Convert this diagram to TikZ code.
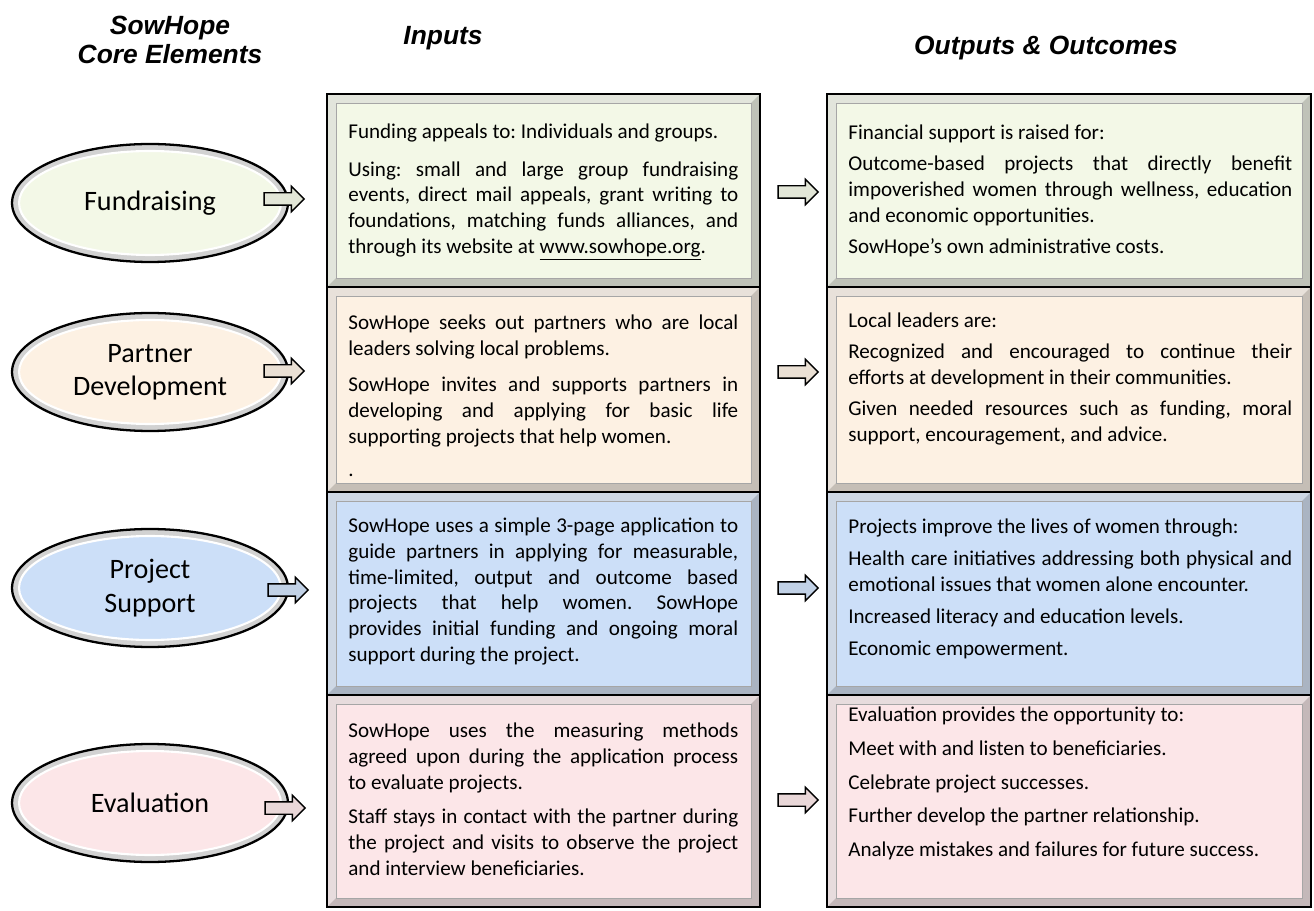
\documentclass[tikz,border=0pt]{standalone}
\usepackage{fontspec}
\newfontfamily\carlito{Carlito}
\newfontfamily\headfont{Liberation Sans}
\usetikzlibrary{shapes.geometric}
\usetikzlibrary{shapes.arrows}
\usetikzlibrary{positioning}

\definecolor{fundfill}{HTML}{F3F8E7}
\definecolor{partfill}{HTML}{FDF1E3}
\definecolor{projfill}{HTML}{CCDFF8}
\definecolor{evalfill}{HTML}{FCE6E8}

\tikzset{
	head/.style={font=\headfont\bfseries\itshape\fontsize{15}{17}\selectfont, align=center},
	core/.style={ellipse, draw=black, line width=1.3pt, fill=gray!35, minimum width=5.52cm, minimum height=2.36cm},
	coreface/.style={ellipse, draw=white, line width=1.2pt, fill=#1, minimum width=5.24cm, minimum height=2.08cm, font=\carlito\fontsize{16}{19}\selectfont, align=center},
	blockarrow/.style={single arrow, draw=black, line width=0.8pt, fill=#1, minimum height=0.8cm, minimum width=0pt, single arrow head extend=0.13cm, inner xsep=0pt, inner ysep=0.11cm},
	boxtext/.style={anchor=north west, inner sep=0pt, align=justify, font=\carlito\fontsize{12}{14.6}\selectfont\frenchspacing, execute at begin node={\setlength{\parskip}{#1}}},
	intext/.style={boxtext=#1, text width=7.8cm},
	outtext/.style={boxtext=#1, text width=8.88cm},
}

\begin{document}
\begin{tikzpicture}[x=0.02cm, y=-0.02cm]
	\useasboundingbox (0,0) rectangle (1314,911);

	% column heads
	\node[head] (corehead) at (170,40) {SowHope\\Core Elements};
	\node[head] (inhead) at (443,38) {Inputs};
	\node[head] (outhead) at (1046,48) {Outputs \& Outcomes};

	% bevelled boxes
	\foreach \ya/\yb/\c in {94/287/fundfill, 287/492/partfill, 492/695/projfill, 695/907/evalfill} {
		\foreach \xa/\xb in {327/760, 827/1311} {
			\fill[\c!75!gray!70!white] (\xa,\ya) rectangle (\xb,\yb);
			\fill[\c!55!gray] (\xb,\ya) -- (\xb,\yb) -- (\xa,\yb) -- (\xa+9,\yb-9) -- (\xb-9,\yb-9) -- (\xb-9,\ya+9) -- cycle;
			\draw[gray!70, fill=\c] (\xa+9,\ya+9) rectangle (\xb-9,\yb-9);
			\draw[line width=1.2pt] (\xa,\ya) rectangle (\xb,\yb);
		}
	}

	% core elements
	\node[core] (fundcore) at (150,203) {};
	\node[coreface=fundfill] (fund) at (fundcore) {Fundraising};
	\node[core] (partcore) at (150,372) {};
	\node[coreface=partfill] (part) at (partcore) {Partner\\Development};
	\node[core] (projcore) at (150,588) {};
	\node[coreface=projfill] (proj) at (projcore) {Project\\Support};
	\node[core] (evalcore) at (150,803) {};
	\node[coreface=evalfill] (eval) at (evalcore) {Evaluation};

	% arrows
	\node[blockarrow=fundfill!85!gray] (fundarrow) at (281,199) {};
	\node[blockarrow=partfill!85!gray] (partarrow) at (281,371) {};
	\node[blockarrow=projfill!85!gray] (projarrow) at (285,590) {};
	\node[blockarrow=evalfill!85!gray] (evalarrow) at (282,808) {};
	\node[blockarrow=fundfill!85!gray] (fundmid) at (795,192) {};
	\node[blockarrow=partfill!85!gray] (partmid) at (795,372) {};
	\node[blockarrow=projfill!85!gray] (projmid) at (795,588) {};
	\node[blockarrow=evalfill!85!gray] (evalmid) at (795,800) {};

	% inputs
	\node[intext=6.5pt] (fundin) at (348,124) {Funding appeals to: Individuals and groups.\par
		Using: small and large group fundraising \linebreak events, direct mail appeals, grant writing to \linebreak foundations, matching funds alliances, and \linebreak through its website at \underline{www.sowhope.org}.};
	\node[intext=6pt] (partin) at (348,315) {SowHope seeks out partners who are local \linebreak leaders solving local problems.\par
		SowHope invites and supports partners in \linebreak developing and applying for basic life \linebreak supporting projects that help women.};
	\node[boxtext=0pt] (partdot) at (348,474) {.};
	\node[intext=0pt] (projin) at (348,518) {SowHope uses a simple 3-page application to \linebreak guide partners in applying for measurable, \linebreak time-limited, output and outcome based \linebreak projects that help women. SowHope \linebreak provides initial funding and ongoing moral \linebreak support during the project.};
	\node[intext=5pt] (evalin) at (348,723) {SowHope uses the measuring methods \linebreak agreed upon during the application process \linebreak to evaluate projects.\par
		Staff stays in contact with the partner during \linebreak the project and visits to observe the project \linebreak and interview beneficiaries.};

	% outputs and outcomes
	\node[outtext=3pt] (fundout) at (848,125) {Financial support is raised for:\par
		Outcome-based projects that directly benefit \linebreak impoverished women through wellness, education \linebreak and economic opportunities.\par
		SowHope’s own administrative costs.};
	\node[outtext=3pt] (partout) at (848,313) {Local leaders are:\par
		Recognized and encouraged to continue their \linebreak efforts at development in their communities.\par
		Given needed resources such as funding, moral \linebreak support, encouragement, and advice.};
	\node[outtext=3.5pt] (projout) at (848,519) {Projects improve the lives of women through:\par
		Health care initiatives addressing both physical and \linebreak emotional issues that women alone encounter.\par
		Increased literacy and education levels.\par
		Economic empowerment.};
	\node[outtext=4.5pt] (evalout) at (848,707) {Evaluation provides the opportunity to:\par
		Meet with and listen to beneficiaries.\par
		Celebrate project successes.\par
		Further develop the partner relationship.\par
		Analyze mistakes and failures for future success.};
\end{tikzpicture}
\end{document}
